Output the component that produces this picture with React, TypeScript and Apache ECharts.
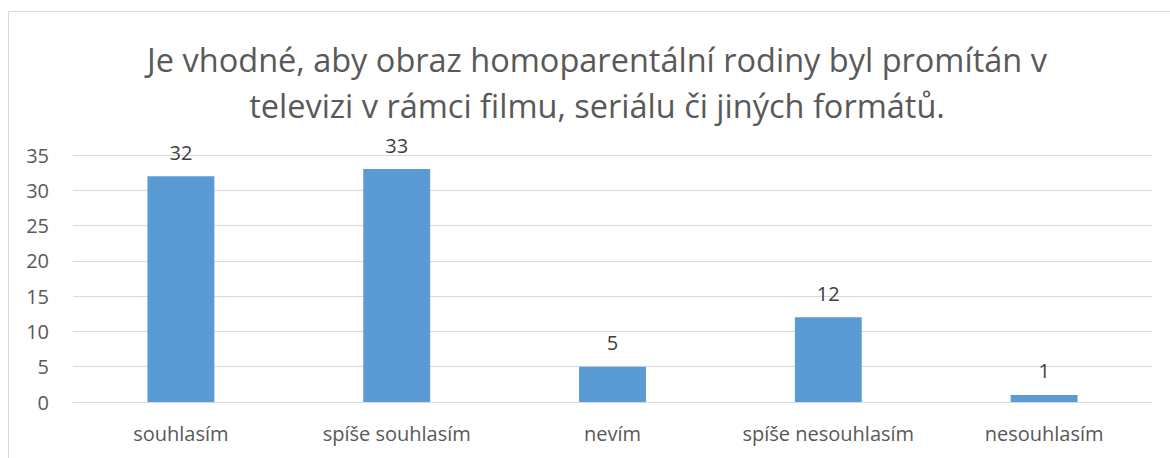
import React, { useEffect, useRef } from "react";
import * as echarts from "echarts";

const titleLines = [
  "Je vhodné, aby obraz homoparentální rodiny byl promítán v",
  "televizi v rámci filmu, seriálu či jiných formátů.",
];
const categories = [
  "souhlasím",
  "spíše souhlasím",
  "nevím",
  "spíše nesouhlasím",
  "nesouhlasím",
];
const values = [32, 33, 5, 12, 1];
const yMin = 0;
const yMax = 35;
const yStep = 5;

const FONT = "'Open Sans', 'Noto Sans', sans-serif";

export default function App() {
  const ref = useRef<HTMLDivElement>(null);
  useEffect(() => {
    if (!ref.current) return;
    const chart = echarts.init(ref.current, undefined, { renderer: "svg" });
    chart.setOption({
      animation: false,
      backgroundColor: "#ffffff",
      title: {
        text: titleLines.join("\n"),
        left: 592,
        top: 31,
        textAlign: "center",
        textStyle: {
          fontFamily: FONT,
          fontSize: 32.5,
          fontWeight: "normal",
          color: "#595959",
          lineHeight: 46,
        },
      },
      graphic: [
        {
          type: "rect",
          shape: { x: 8.5, y: 11.5, width: 1200, height: 600 },
          style: { fill: "none", stroke: "#D9D9D9", lineWidth: 1 },
          silent: true,
          z: -10,
        },
      ],
      grid: { left: 73, right: 18, top: 155, bottom: 56, containLabel: false },
      xAxis: {
        type: "category",
        data: categories,
        axisLine: { show: true, lineStyle: { color: "#D9D9D9", width: 1 } },
        axisTick: { show: false },
        axisLabel: {
          interval: 0,
          hideOverlap: false,
          fontFamily: FONT,
          fontSize: 20,
          color: "#595959",
          margin: 21,
        },
      },
      yAxis: {
        type: "value",
        min: yMin,
        max: yMax,
        interval: yStep,
        axisLine: { show: false },
        axisTick: { show: false },
        splitLine: { lineStyle: { color: "#D9D9D9", width: 1 } },
        axisLabel: {
          fontFamily: FONT,
          fontSize: 20,
          color: "#595959",
          margin: 24,
        },
      },
      series: [
        {
          type: "bar",
          data: values,
          barWidth: "31%",
          itemStyle: { color: "#5B9BD5" },
          label: {
            show: true,
            position: "top",
            distance: 14,
            fontFamily: FONT,
            fontSize: 20,
            color: "#404040",
          },
        },
      ],
    });
    return () => chart.dispose();
  }, []);
  return (
    <div
      ref={ref}
      style={{ position: "absolute", left: 0, top: 0, width: 1170, height: 458 }}
    />
  );
}
